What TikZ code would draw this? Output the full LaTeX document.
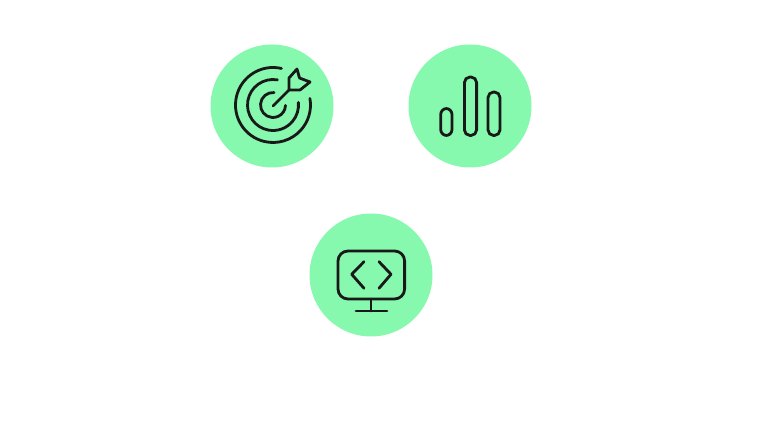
\documentclass[tikz,border=0pt]{standalone}
\definecolor{mint}{HTML}{86F9AE}
\tikzset{
  badge/.style={circle,fill=mint,minimum size=123pt,inner sep=0pt},
  glyph/.style={draw=black!90,line width=2.8pt,line cap=round,line join=round}
}
\begin{document}
\begin{tikzpicture}[x=1pt,y=1pt]
    \useasboundingbox (0,0) rectangle (768,435);
    \node[badge] (target) at (272,329) {};
    \node[badge] (bars) at (470,329) {};
    \node[badge] (monitor) at (371,160) {};
    % target
    \begin{scope}[shift={(target.center)},glyph]
      \draw (1,1) ++(77:37.5) arc (77:370:37.5);
      \draw (1,1) ++(80:25.5) arc (80:366:25.5);
      \draw (1,1) ++(85:12.5) arc (85:358:12.5);
      \draw (1,0) -- (17,16);
      \draw (17,16) -- (17,28) -- (25,37) -- (27.5,28) -- (38,24) -- (28,16) -- cycle;
    \end{scope}
    % bars
    \begin{scope}[shift={(bars.center)},glyph]
      \draw[rounded corners=6pt] (-29.3,-29.5) rectangle (-18,-2.5);
      \draw[rounded corners=5.6pt] (-5.6,-29.5) rectangle (6.6,29);
      \draw[rounded corners=5.6pt] (18,-29.5) rectangle (30,14);
    \end{scope}
    % monitor
    \begin{scope}[shift={(monitor.center)},glyph]
      \draw[rounded corners=10pt] (-33,-24) rectangle (33.6,24);
      \draw (0,-24) -- (0,-36);
      \draw (-15,-36) -- (16,-36);
      \draw (-7,13.3) -- (-19.3,0.7) -- (-7,-13.3);
      \draw (8,13.3) -- (20,0.7) -- (8,-13.3);
    \end{scope}
\end{tikzpicture}
\end{document}
